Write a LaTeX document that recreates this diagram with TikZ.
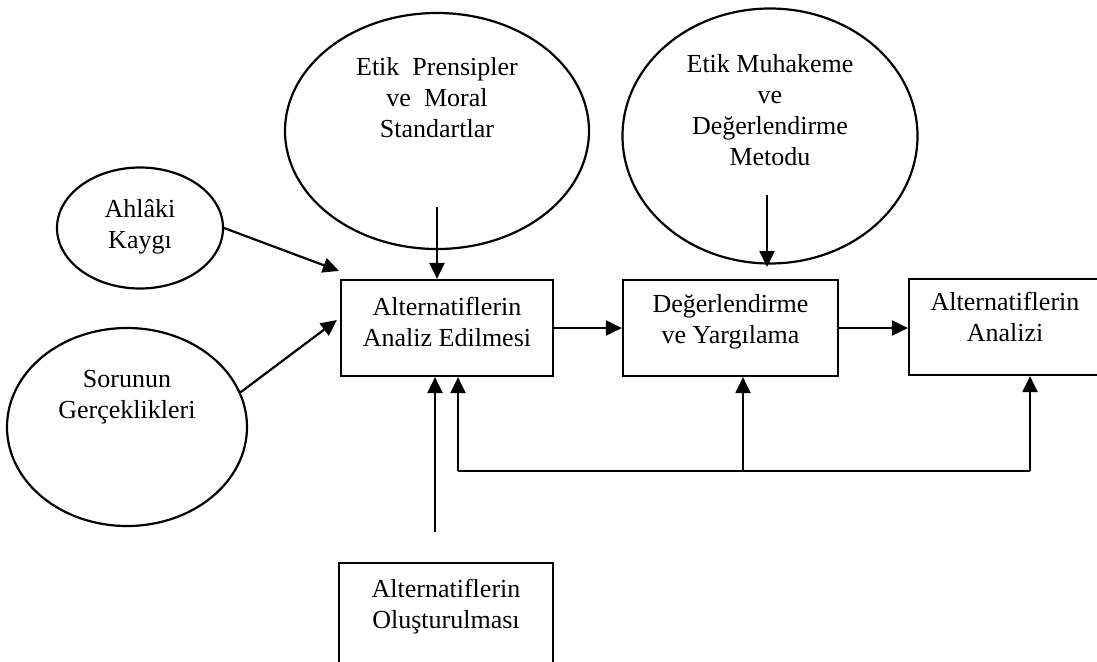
\documentclass[tikz,border=0pt]{standalone}
\usepackage{fontspec}
\setmainfont{Liberation Serif}
\usetikzlibrary{shapes.geometric,arrows.meta}
\begin{document}
\begin{tikzpicture}[x=1pt,y=-1pt,
  line width=2.2pt,
  lbl/.style={font=\fontsize{26}{31}\selectfont, align=center, inner sep=0pt},
  oval/.style={draw, ellipse, inner sep=0pt},
  stepbox/.style={draw, rectangle, inner sep=0pt},
  arr/.style={-{Triangle[length=16pt,width=15pt]}},
]
\useasboundingbox (0,0) rectangle (1097,661);
\clip (0,0) rectangle (1097,661);

% ellipses
\node[oval, minimum width=304, minimum height=236] (ep) at (437,131) {};
\node[lbl] (eptxt) at (437,98) {Etik\ \ Prensipler\\ve\ \ Moral\\Standartlar};

\node[oval, minimum width=295, minimum height=255] (em) at (770,136) {};
\node[lbl] (emtxt) at (770,110) {Etik Muhakeme\\ve\\De\u{g}erlendirme\\Metodu};

\node[oval, minimum width=166, minimum height=121] (ak) at (140,228) {};
\node[lbl] (aktxt) at (140,227) {Ahl\^aki\\Kayg\i};

\node[oval, minimum width=240, minimum height=198] (sg) at (127,427) {};
\node[lbl] (sgtxt) at (127,397) {Sorunun\\Ger\c{c}eklikleri};

% boxes
\node[stepbox, minimum width=212, minimum height=96] (b1) at (447,328) {};
\node[lbl] (b1txt) at (447,322) {Alternatiflerin\\Analiz Edilmesi};

\node[stepbox, minimum width=215, minimum height=96] (b2) at (730.5,328) {};
\node[lbl] (b2txt) at (730.5,322) {De\u{g}erlendirme\\ve Yarg\i lama};

\node[stepbox, minimum width=200, minimum height=96] (b3) at (1009,327) {};
\node[lbl] (b3txt) at (1005,317) {Alternatiflerin\\Analizi};

\node[stepbox, minimum width=214, minimum height=130] (b5) at (446,628) {};
\node[lbl] (b5txt) at (446,607) {Alternatiflerin\\Olu\c{s}turulmas\i};

% free ends of connectors
\coordinate (epfoot) at (437,207);
\coordinate (emfoot) at (767,195);
\coordinate (emtip) at (767,267);
\coordinate (olTop) at (435,532);
\coordinate (fbL) at (458,471);
\coordinate (fbM) at (743,471);
\coordinate (fbR) at (1030,471);

% inputs to the analysis box
\draw[arr] (ak.east) -- ([shift={(-1pt,8pt)}]b1.north west);
\draw[arr] (sg.17) -- ([shift={(-3pt,8pt)}]b1.west);
\draw[arr] (epfoot) -- (epfoot |- b1.north);
\draw[arr] (emfoot) -- (emtip);
\draw[arr] (olTop) -- (olTop |- b1.south);

% main flow
\draw[arr] (b1.east) -- (b2.west);
\draw[arr] (b2.east) -- (b3.west |- b2.east);

% feedback loop
\draw (fbL) -- (fbR);
\draw[arr] (fbL) -- (fbL |- b1.south);
\draw[arr] (fbM) -- (fbM |- b2.south);
\draw[arr] (fbR) -- (fbR |- b3.south);
\end{tikzpicture}
\end{document}
